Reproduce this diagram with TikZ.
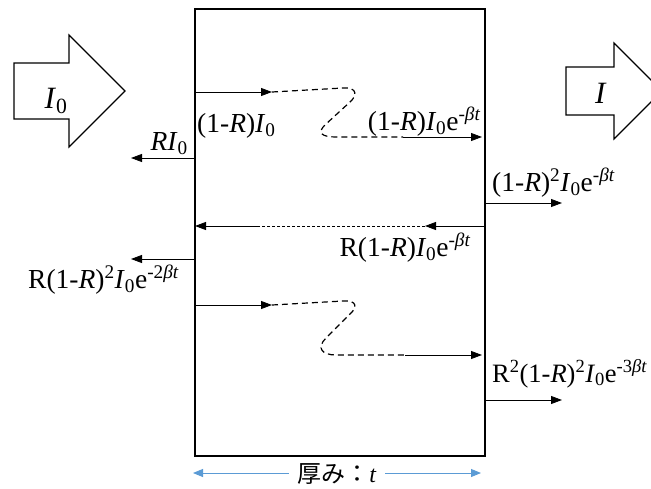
\documentclass[tikz,border=0pt]{standalone}
\usepackage{fontspec}
\setmainfont{Liberation Serif}
\newfontfamily\jpfont{Noto Sans CJK JP}
\usetikzlibrary{arrows.meta}
\newcommand{\Izero}{\textit{I}\textsubscript{0}}
\definecolor{dimblue}{RGB}{91,155,213}
\begin{document}
\begin{tikzpicture}[x=1pt,y=-1pt,
  lbl/.style={font=\fontsize{27.5}{29}\selectfont, inner sep=0pt},
  biglbl/.style={font=\fontsize{31}{33}\selectfont, inner sep=0pt},
  ray/.style={-{Triangle[length=11pt,width=8pt]}, line width=0.8pt},
  wave/.style={dash pattern=on 6pt off 4pt, line width=1.2pt},
  fatarrow/.style={draw, line width=1.1pt, fill=white},
  dim/.style={{Triangle[length=10pt,width=8pt]}-{Triangle[length=10pt,width=8pt]}, line width=0.9pt, draw=dimblue, color=dimblue}]
\useasboundingbox (0,0) rectangle (651,488);
\begin{scope}
\clip (0,0) rectangle (651,488);
% slab
\node[draw, line width=1.5pt, minimum width=290pt, minimum height=447pt, inner sep=0pt, anchor=north west] (slab) at (194,8) {};
% incoming and outgoing fat arrows
\draw[fatarrow] (14,63) -- (69,63) -- (69,35) -- (125,91) -- (69,147) -- (69,119) -- (14,119) -- cycle;
\node[biglbl, anchor=base] (tI0) at (56,108) {\Izero};
\draw[fatarrow] (566,67) -- (614,67) -- (614,43) -- (662,91) -- (614,139) -- (614,115) -- (566,115) -- cycle;
\node[biglbl, anchor=base] (tI) at (601,103) {\textit{I}};
\end{scope}
% coordinates
\coordinate (p1a) at (194,92);
\coordinate (p1b) at (272,92);
\coordinate (p1c) at (403,137);
\coordinate (p1d) at (482,137);
\coordinate (r0a) at (194,158);
\coordinate (r0b) at (131,158);
\coordinate (t1a) at (484,203);
\coordinate (t1b) at (562,203);
\coordinate (m1a) at (484,226);
\coordinate (m1b) at (425,226);
\coordinate (m1c) at (257,226);
\coordinate (m1d) at (195,226);
\coordinate (r1a) at (194,259);
\coordinate (r1b) at (131,259);
\coordinate (p2a) at (194,305);
\coordinate (p2b) at (272,305);
\coordinate (p2c) at (405,355);
\coordinate (p2d) at (482,355);
\coordinate (t2a) at (484,400);
\coordinate (t2b) at (562,400);
\coordinate (da) at (193,473);
\coordinate (db) at (481,473);
% first pass
\draw[ray] (p1a) -- (p1b);
\draw[wave] (p1b) -- (343,88) .. controls (358,87) and (357,96) .. (350,102) -- (326,124) .. controls (316,133) and (322,137) .. (336,137) -- (p1c);
\draw[ray] (p1c) -- (p1d);
\node[lbl, anchor=base west] (l1) at (197,132) {(1-\textit{R})\Izero};
\node[lbl, anchor=base east] (l2) at (481,130) {(1-\textit{R})\Izero e\textsuperscript{-\textit{βt}}};
% reflection at front
\draw[ray] (r0a) -- (r0b);
\node[lbl, anchor=base east] (l3) at (188,150) {\textit{R}\Izero};
% transmitted
\draw[ray] (t1a) -- (t1b);
\node[lbl, anchor=base west] (l4) at (492,191) {(1-\textit{R})\textsuperscript{2}\Izero e\textsuperscript{-\textit{βt}}};
% back reflection
\draw[ray] (m1a) -- (m1b);
\draw[line width=0.6pt, dash pattern=on 3pt off 2pt] (m1b) -- (m1c);
\draw[ray] (m1c) -- (m1d);
\node[lbl, anchor=base east] (l5) at (471,256) {R(1-\textit{R})\Izero e\textsuperscript{-\textit{βt}}};
% second reflection out front
\draw[ray] (r1a) -- (r1b);
\node[lbl, anchor=base west] (l6) at (28,288) {R(1-\textit{R})\textsuperscript{2}\Izero e\textsuperscript{-2\textit{βt}}};
% second pass
\draw[ray] (p2a) -- (p2b);
\draw[wave] (p2b) -- (343,301) .. controls (358,300) and (357,308) .. (350,314) -- (326,338) .. controls (316,348) and (322,355) .. (336,355) -- (p2c);
\draw[ray] (p2c) -- (p2d);
% second transmitted
\draw[ray] (t2a) -- (t2b);
\node[lbl, font=\fontsize{26.5}{28}\selectfont, anchor=base west] (l7) at (492,382) {R\textsuperscript{2}(1-\textit{R})\textsuperscript{2}\Izero e\textsuperscript{-3\textit{βt}}};
% thickness
\draw[dim] (da) -- (db);
\node[fill=white, inner xsep=8pt, inner ysep=2pt, font=\fontsize{24}{26}\selectfont] (thk) at (337,474) {{\jpfont 厚み：}\textit{t}};
\end{tikzpicture}
\end{document}
